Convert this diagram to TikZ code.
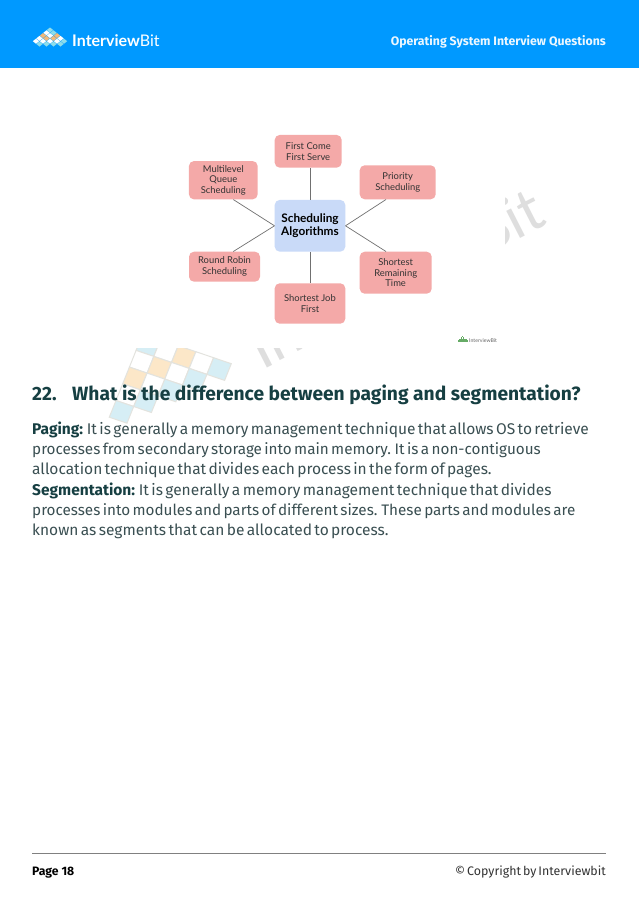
\documentclass[tikz,border=0pt]{standalone}
\usepackage{fontspec}
\setmainfont{Fira Sans}
\newfontfamily\boxfont{Lato}
\newcommand{\tightbody}{\spaceskip 2.4pt\relax}
\newcommand{\tightfoot}{\spaceskip 2pt\relax}
\definecolor{headblue}{HTML}{0099FF}
\definecolor{boxred}{HTML}{F4A9A8}
\definecolor{boxblue}{HTML}{C9DAF8}
\definecolor{bodyink}{HTML}{3A4F52}
\definecolor{headink}{HTML}{163F42}
\definecolor{wmblue}{HTML}{D6EEF5}
\definecolor{wmorange}{HTML}{FCE7C8}
\definecolor{wmline}{HTML}{E3E3DE}
\definecolor{wmtext}{HTML}{DEDEDE}
\definecolor{lineink}{HTML}{707070}
\definecolor{tileorange}{HTML}{F2B97A}
\definecolor{tilecyan}{HTML}{8FDDEA}
\tikzset{
  algbox/.style={fill=boxred,rounded corners=5pt,align=center,inner sep=0pt,
    text=black!80,font=\boxfont\fontsize{9.4}{10.7}\selectfont},
  rootbox/.style={algbox,fill=boxblue,text=black,
    font=\boxfont\bfseries\fontsize{11.8}{13}\selectfont},
  link/.style={draw=lineink,line width=0.7pt},
  bodyline/.style={anchor=base west,inner sep=0pt,text=bodyink,
    font=\fontsize{15.5}{20}\selectfont\tightbody},
  bodynarrow/.style={bodyline,font=\fontsize{15.25}{20}\selectfont\tightbody},
  headline/.style={anchor=base west,inner sep=0pt,text=headink,
    font=\bfseries\fontsize{19.2}{20}\selectfont},
  wmcell/.style={draw=wmline,line width=1pt}
}
\begin{document}
\begin{tikzpicture}[x=1pt,y=-1pt]
\useasboundingbox (0,0) rectangle (639,905);
\fill[white] (0,0) rectangle (639,905);
% watermark
\node[rotate=27,anchor=base east,inner sep=0pt,text=wmtext,
  font=\boxfont\fontsize{60}{60}\selectfont] (wmark) at (549,224) {InterviewBit};
\foreach \i/\j/\c in {0/-1/wmblue,1/-1/white,2/-1/wmorange,3/-1/white,4/-1/wmblue,
  0/0/white,1/0/wmorange,2/0/white,3/0/wmblue,
  0/1/wmorange,1/1/white,2/1/wmblue,
  0/2/white,1/2/wmblue,
  0/3/wmblue}
  \draw[wmcell,fill=\c,shift={(148.3+17.7*\i-6.7*\j,361.7+6*\i+16.7*\j)}]
    (-12.2,-11.3) -- ++(17.7,6) -- ++(-6.7,16.7) -- ++(-17.7,-6) -- cycle;
% picture on top of the watermark
\fill[white] (120,70) rectangle (505,348);
% header
\fill[headblue] (0,0) rectangle (639,68);
\foreach \px/\py/\c in {50/30/tilecyan,
  46.5/32.8/white,53.5/32.8/tilecyan,
  43/35.6/tileorange,50/35.6/white,57/35.6/tileorange,
  39.5/38.4/white,46.5/38.4/tileorange,53.5/38.4/tileorange,60.5/38.4/white,
  36/41.2/white,43/41.2/white,50/41.2/white,57/41.2/white,64/41.2/tilecyan,
  39.5/44/tilecyan,46.5/44/tilecyan,53.5/44/tilecyan,60.5/44/tilecyan}
  \fill[\c] (\px-3.2,\py) -- (\px,\py-2.5) -- (\px+3.2,\py) -- (\px,\py+2.5) -- cycle;
\node[anchor=base west,inner sep=0pt,text=white,font=\boxfont\fontsize{16}{16}\selectfont]
  (brand) at (72,46.5) {\textbf{Interview}Bit};
\node[anchor=base east,inner sep=0pt,text=white!92!headblue,font=\bfseries\fontsize{12.3}{14}\selectfont]
  (runhead) at (606,45) {Operating System Interview Questions};
% scheduling diagram
\node[rootbox,minimum width=70.6pt,minimum height=51.7pt] (algo) at (310,225.8) {Scheduling\\Algorithms};
\node[algbox,minimum width=67pt,minimum height=32.7pt] (fcfs) at (308.2,151.3) {First Come\\First Serve};
\node[algbox,minimum width=68.7pt,minimum height=38.3pt] (mlq) at (223.3,180.2) {Multilevel\\Queue\\Scheduling};
\node[algbox,minimum width=76pt,minimum height=34pt] (prio) at (397.7,182.3) {Priority\\Scheduling};
\node[algbox,minimum width=71pt,minimum height=30pt] (rr) at (224.5,266.7) {Round Robin\\Scheduling};
\node[algbox,minimum width=72pt,minimum height=42pt] (srt) at (395.7,272.7) {Shortest\\Remaining\\Time};
\node[algbox,minimum width=70.6pt,minimum height=40.4pt] (sjf) at (310,303.5) {Shortest Job\\First};
\draw[link] (fcfs.south -| algo.north) -- (algo.north);
\draw[link] ([xshift=10pt]mlq.south) -- (algo.west);
\draw[link] ([xshift=-11.7pt]prio.south) -- (algo.east);
\draw[link] ([xshift=8.8pt]rr.north) -- (algo.west);
\draw[link] ([xshift=-9.7pt]srt.north) -- (algo.east);
\draw[link] (algo.south) -- (sjf.north);
% small mark
\foreach \px/\py in {459/341,461/341,463/341,465/341,467/341,460/339.5,462/339.5,464/339.5,466/339.5,461.5/338,463.5/338,462.5/336.8}
  \fill[green!45!black!60] (\px-0.7,\py-0.6) rectangle (\px+0.7,\py+0.6);
\node[anchor=base west,inner sep=0pt,text=black!60,font=\boxfont\fontsize{5.2}{5}\selectfont]
  (smallmark) at (469,342.5) {InterviewBit};
% question
\node[headline] (qnum) at (32,400) {22.};
\node[headline] (qtext) at (72,400) {What is the difference between paging and segmentation?};
\node[bodyline] (l1) at (32,434) {\textcolor{headink}{\textbf{Paging:}} It is generally a memory management technique that allows OS to retrieve};
\node[bodynarrow] (l2) at (32,454) {processes from secondary storage into main memory. It is a non-contiguous};
\node[bodyline] (l3) at (32,474) {allocation technique that divides each process in the form of pages.};
\node[bodyline] (l4) at (32,495) {\textcolor{headink}{\textbf{Segmentation:}} It is generally a memory management technique that divides};
\node[bodynarrow] (l5) at (32,515) {processes into modules and parts of different sizes. These parts and modules are};
\node[bodyline] (l6) at (32,535) {known as segments that can be allocated to process.};
% footer
\coordinate (footl) at (32,853.5);
\coordinate (footr) at (606,853.5);
\draw[line width=1.6pt,draw=black!50] (footl) -- (footr);
\node[anchor=base west,inner sep=0pt,text=black,font=\bfseries\fontsize{12.2}{14}\selectfont]
  (pageno) at (32,875) {Page 18};
\node[anchor=base east,inner sep=0pt,text=black!80,font=\fontsize{12.4}{14}\selectfont\tightfoot]
  (copy) at (606,875) {© Copyright by Interviewbit};
\end{tikzpicture}
\end{document}
